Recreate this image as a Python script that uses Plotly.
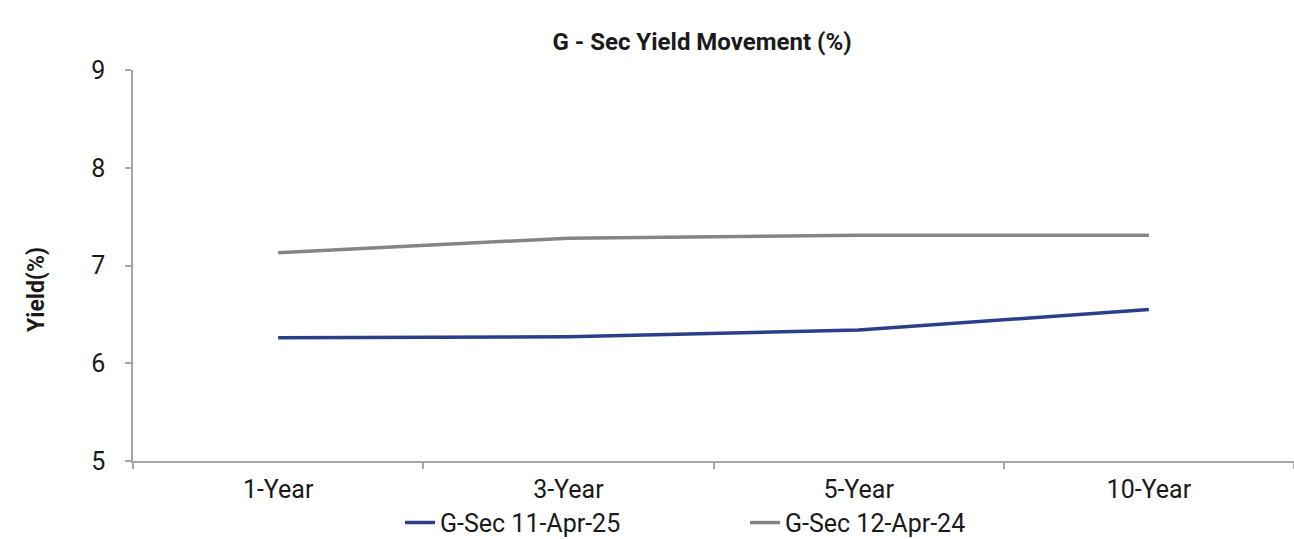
import plotly.graph_objects as go

tenors = ["1-Year", "3-Year", "5-Year", "10-Year"]
yield_apr25 = [6.26, 6.27, 6.34, 6.55]
yield_apr24 = [7.13, 7.28, 7.31, 7.31]
series_names = ["G-Sec 11-Apr-25", "G-Sec 12-Apr-24"]
series_colors = ["#2A3F8A", "#858585"]

fig = go.Figure()
for name, vals, color in zip(series_names, [yield_apr25, yield_apr24], series_colors):
    fig.add_trace(go.Scatter(
        x=tenors, y=vals, name=name, mode="lines",
        line=dict(color=color, width=3.5),
    ))

axis_color = "#A6A6A6"
text_color = "#1a1a1a"
fig.update_layout(
    width=1294, height=539,
    margin=dict(l=133, r=0, t=70, b=78, autoexpand=False),
    paper_bgcolor="white", plot_bgcolor="white",
    font=dict(family="Roboto", size=25, color=text_color),
    title=dict(
        text="<b>G - Sec Yield Movement (%)</b>",
        x=0.5425, xanchor="center", y=0.922, yanchor="middle",
        font=dict(family="Roboto", size=24, color=text_color),
    ),
    xaxis=dict(
        type="category", range=[-0.5, 3.5], automargin=False,
        showline=True, linecolor=axis_color, linewidth=1.5,
        ticks="outside", ticklen=6, tickcolor=axis_color, tickwidth=1.5,
        tickson="boundaries", showgrid=False, zeroline=False,
        ticklabelstandoff=5,
    ),
    yaxis=dict(
        range=[5, 9], dtick=1, automargin=False,
        showline=True, linecolor=axis_color, linewidth=1.5,
        ticks="outside", ticklen=6, tickcolor=axis_color, tickwidth=1.5,
        showgrid=False, zeroline=False,
        ticklabelstandoff=15,
    ),
    legend=dict(
        orientation="h", x=0.230, xanchor="left",
        yref="container", y=0.03, yanchor="middle",
        font=dict(family="Roboto", size=25, color=text_color),
        entrywidth=300, entrywidthmode="pixels",
    ),
    showlegend=True,
)

# y-axis title, set slightly below the plot's vertical centre
fig.add_annotation(
    text="<b>Yield(%)</b>", textangle=-90,
    xref="paper", yref="paper", x=-0.0827, y=0.44,
    xanchor="center", yanchor="middle", showarrow=False,
    font=dict(family="Roboto", size=23, color=text_color),
)

fig.write_html("out.html")
